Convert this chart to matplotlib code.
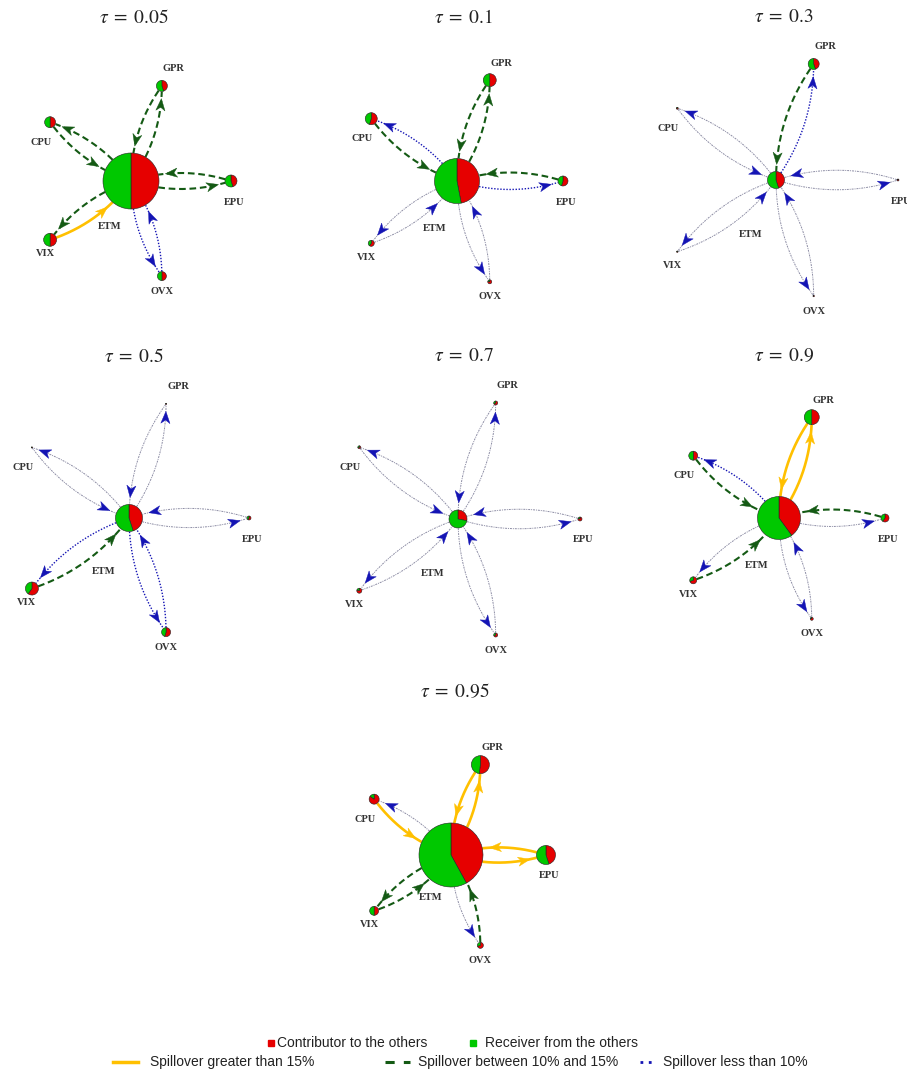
import numpy as np
import matplotlib.pyplot as plt
from matplotlib.patches import Wedge, Polygon

# quantiles shown in the panels
TAUS = [0.05, 0.1, 0.3, 0.5, 0.7, 0.9, 0.95]
HUB = 'ETM'
PERIPH = ['CPU', 'GPR', 'EPU', 'VIX', 'OVX']

# pairwise spillover (%) node -> ETM, one row per tau, columns follow PERIPH
TO_ETM = [
    [12, 12, 13, 17, 8],
    [11, 11, 11, 5, 4],
    [4, 10.5, 3, 4, 3],
    [3, 3, 3, 10.5, 7],
    [4, 4, 4, 4, 4],
    [11, 17, 11, 11, 4],
    [16, 18, 19, 12, 11],
]
# pairwise spillover (%) ETM -> node
FROM_ETM = [
    [11, 12, 12, 12, 8],
    [7, 11, 7, 4, 4],
    [3, 7, 3, 3, 3],
    [3, 3, 3, 7, 7],
    [2, 2, 2, 2, 2],
    [6, 16, 4, 3, 3],
    [3, 18, 18, 12, 3],
]
# total connectedness of each node (ETM, CPU, GPR, EPU, VIX, OVX)
NODE_TOTAL = [
    [112, 22, 22, 24, 26, 18],
    [90, 24, 26, 20, 12, 8],
    [34, 4, 22, 4, 3, 3],
    [54, 2, 2, 8, 26, 18],
    [36, 6, 8, 8, 10, 8],
    [86, 18, 30, 16, 14, 6],
    [128, 20, 36, 38, 18, 12],
]
# share of the total that is contributed to the others
NODE_SHARE = [
    [0.50, 0.50, 0.45, 0.45, 0.50, 0.50],
    [0.47, 0.55, 0.50, 0.55, 0.60, 0.80],
    [0.45, 0.80, 0.45, 0.80, 0.80, 0.80],
    [0.45, 0.80, 0.80, 0.60, 0.60, 0.55],
    [0.28, 0.70, 0.70, 0.80, 0.80, 0.70],
    [0.40, 0.50, 0.50, 0.60, 0.70, 0.80],
    [0.42, 0.85, 0.52, 0.45, 0.50, 0.70],
]

# ---- layout (figure pixels) ----
W, H = 907, 1074
HUB_XY = [(131, 181), (457, 181), (776, 180), (129, 518), (458, 519), (779, 518), (451, 855)]
SPREAD = [100, 106, 122, 120, 122, 106, 95]
TITLE_XY = [(134, 17), (464, 17), (784, 17), (134, 356), (464, 356), (784, 356), (455, 692)]
ANGLE = {'EPU': 0, 'GPR': 72, 'CPU': 144, 'VIX': 216, 'OVX': 288}
LABEL_OFF = {'GPR': (12, 17), 'CPU': (-9, -20), 'EPU': (3, -21), 'VIX': (-5, -14), 'OVX': (0, -15)}
PX_PER_UNIT = 0.25

RED, GREEN = '#E60000', '#00C800'
YELLOW, DKGREEN, BLUE, GREY = '#FFC000', '#145A14', '#1414B4', '#8C8CA4'

plt.rcParams['mathtext.fontset'] = 'stix'
fig = plt.figure(figsize=(W / 100, H / 100), dpi=100)


def edge_style(v):
    if v > 15:
        return dict(color=YELLOW, lw=1.9, ls='-'), YELLOW
    if v >= 10:
        return dict(color=DKGREEN, lw=1.5, ls=(0, (3.2, 1.8))), DKGREEN
    if v >= 6:
        return dict(color=BLUE, lw=1.0, ls=(0, (1, 1.2))), BLUE
    return dict(color=GREY, lw=0.7, ls=(0, (2, 1, 1, 1))), BLUE


def draw_edge(ax, pa, ra, pb, rb, v):
    d = pb - pa
    L = np.hypot(*d)
    u = d / L
    nr = np.array([u[1], -u[0]])          # right of travel direction
    c = (pa + pb) / 2 + nr * 0.16 * L
    t = np.linspace(0, 1, 400)[:, None]
    pts = (1 - t) ** 2 * pa + 2 * (1 - t) * t * c + t ** 2 * pb
    da = np.hypot(*(pts - pa).T)
    db = np.hypot(*(pts - pb).T)
    keep = (da >= ra) & (db >= rb)
    kw, acol = edge_style(v)
    ax.plot(pts[keep, 0], pts[keep, 1], zorder=1, solid_capstyle='butt', **kw)
    # arrow head a little before the target node
    i = np.where(db >= rb + 7)[0][-1]
    tip = pts[i]
    dv = pts[i] - pts[i - 6]
    dv = dv / np.hypot(*dv)
    pv = np.array([-dv[1], dv[0]])
    la, wa = 12, 4.6
    head = [tip, tip - la * dv + wa * pv, tip - 0.72 * la * dv, tip - la * dv - wa * pv]
    ax.add_patch(Polygon(head, closed=True, fc=acol, ec=acol, lw=0.3, zorder=2))


def draw_pie(ax, xy, r, share):
    r = max(r, 0.6)
    ax.add_patch(Wedge(xy, r, 90 - share * 360, 90, fc=RED, ec='#222222', lw=0.4, zorder=3))
    ax.add_patch(Wedge(xy, r, 90, 450 - share * 360, fc=GREEN, ec='#222222', lw=0.4, zorder=3))


lab_kw = dict(fontfamily='Liberation Serif', fontweight='bold', fontsize=7.5,
              color='#333333', ha='center', va='center', zorder=4)

for k, tau in enumerate(TAUS):
    cx, cy = HUB_XY[k]
    ax = fig.add_axes([(cx - 150) / W, (H - cy - 150) / H, 300 / W, 300 / H])
    ax.set_xlim(-150, 150)
    ax.set_ylim(-150, 150)
    ax.axis('off')
    ax.patch.set_visible(False)

    hub = np.array([0.0, 0.0])
    r_hub = NODE_TOTAL[k][0] * PX_PER_UNIT
    R = SPREAD[k]
    for j, name in enumerate(PERIPH):
        a = np.deg2rad(ANGLE[name])
        p = np.array([R * np.cos(a), R * np.sin(a)])
        r = NODE_TOTAL[k][j + 1] * PX_PER_UNIT
        draw_edge(ax, p, r, hub, r_hub, TO_ETM[k][j])
        draw_edge(ax, hub, r_hub, p, r, FROM_ETM[k][j])
        draw_pie(ax, p, r, NODE_SHARE[k][j + 1])
        ox, oy = LABEL_OFF[name]
        ax.text(p[0] + ox, p[1] + oy, name, **lab_kw)
    draw_pie(ax, hub, r_hub, NODE_SHARE[k][0])
    ax.text(-0.21 * R, -0.45 * R, HUB, **lab_kw)

    tx, ty = TITLE_XY[k]
    ax.text(tx - cx, cy - ty, r'$\tau\;=\;%s$' % tau, fontsize=14, ha='center',
            va='center', color='#222222', clip_on=False)

# ---- legend ----
lax = fig.add_axes([0, 0, 1, 1])
lax.set_xlim(0, W)
lax.set_ylim(H, 0)
lax.axis('off')
lax.patch.set_visible(False)
leg_kw = dict(fontfamily=['Liberation Sans Narrow', 'Liberation Sans'], fontsize=10,
              color='#222222', va='center', ha='left')
lax.plot([271], [1043], 's', ms=4, color=RED)
lax.text(277, 1043, 'Contributor to the others', **leg_kw)
lax.plot([473], [1043], 's', ms=4, color=GREEN)
lax.text(485, 1043, 'Receiver from the others', **leg_kw)
lax.plot([113, 138], [1062, 1062], color=YELLOW, lw=2.5)
lax.text(150, 1062, 'Spillover greater than 15%', **leg_kw)
lax.plot([385, 410], [1062, 1062], color=DKGREEN, lw=2.2, ls=(0, (3, 3)))
lax.text(418, 1062, 'Spillover between 10% and 15%', **leg_kw)
lax.plot([640, 653], [1062, 1062], color=BLUE, lw=2, ls=(0, (1, 2)))
lax.text(663, 1062, 'Spillover less than 10%', **leg_kw)

fig.savefig('out.png', dpi=100)
